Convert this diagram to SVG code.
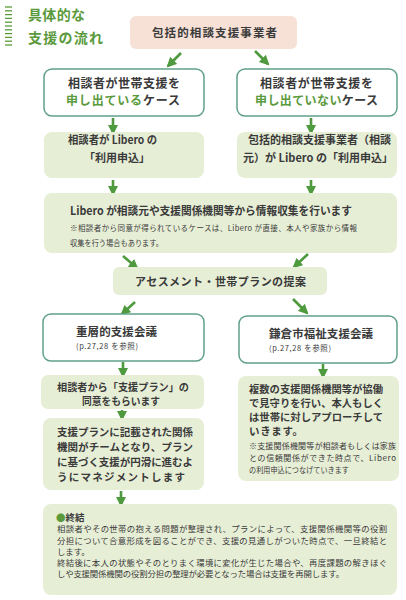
<svg xmlns="http://www.w3.org/2000/svg" width="406" height="600" viewBox="0 0 406 600">
<style>
text{font-family:"Noto Sans CJK JP","Noto Sans",sans-serif;fill:#3a3a3a}
.t{font-weight:700}
.title{font-size:14px;font-weight:700;fill:#5a9a3c}
.g{fill:#5a9a3c}
.n{font-size:12px;font-weight:700}
.m{font-size:10.5px;font-weight:700}
.s{font-size:7.5px;font-weight:400}
.b{font-size:8.4px;font-weight:400}
.pink{fill:#f7e1d7}
.wbox{fill:#ffffff;stroke:#5fa08a;stroke-width:1.5}
.gbox{fill:#e7eed6}
.arr{stroke:#4f9a3f;stroke-width:2.6;fill:none;marker-end:url(#ah)}
</style>
<defs>
<marker id="ah" markerUnits="userSpaceOnUse" markerWidth="10" markerHeight="10" viewBox="0 0 10 10" refX="8" refY="5" orient="auto">
<path d="M0,0 L10,5 L0,10 Z" fill="#4f9a3f"/>
</marker>
</defs>
<rect width="406" height="600" fill="#ffffff"/>

<g id="title">
<g stroke="#5a9a3c" stroke-width="1.3">
<line x1="5" y1="7" x2="12" y2="7"/><line x1="5" y1="10.8" x2="12" y2="10.8"/><line x1="5" y1="14.6" x2="12" y2="14.6"/><line x1="5" y1="18.4" x2="12" y2="18.4"/><line x1="5" y1="22.2" x2="12" y2="22.2"/><line x1="5" y1="26" x2="12" y2="26"/><line x1="5" y1="29.8" x2="12" y2="29.8"/><line x1="5" y1="33.6" x2="12" y2="33.6"/><line x1="5" y1="37.4" x2="12" y2="37.4"/><line x1="5" y1="41.2" x2="12" y2="41.2"/><line x1="5" y1="45" x2="12" y2="45"/>
</g>
<text class="title" x="28" y="19.5" textLength="57">具体的な</text>
<text class="title" x="28" y="42.5" textLength="75">支援の流れ</text>
</g>

<g id="connectors">
<line class="arr" x1="181" y1="53" x2="168" y2="66"/>
<line class="arr" x1="255" y1="51" x2="268" y2="64"/>
<line class="arr" x1="113" y1="118" x2="113" y2="133"/>
<line class="arr" x1="311" y1="118" x2="311" y2="133"/>
<line class="arr" x1="113" y1="180" x2="113" y2="194"/>
<line class="arr" x1="311" y1="180" x2="311" y2="194"/>
<line class="arr" x1="123" y1="256" x2="137" y2="268"/>
<line class="arr" x1="308" y1="254" x2="294" y2="267"/>
<line class="arr" x1="135" y1="302" x2="122" y2="314"/>
<line class="arr" x1="293" y1="299" x2="307" y2="313"/>
<line class="arr" x1="123" y1="362" x2="123" y2="376"/>
<line class="arr" x1="323" y1="364" x2="323" y2="377"/>
<line class="arr" x1="122" y1="410" x2="122" y2="419"/>
<line class="arr" x1="121" y1="491" x2="121" y2="505"/>
</g>

<g id="n-top">
<rect class="pink" x="130" y="16" width="167" height="33" rx="6"/>
<text class="n" style="font-size:11.5px" x="152" y="37.3" textLength="125">包括的相談支援事業者</text>
</g>

<g id="n-case-left">
<rect class="wbox" x="44" y="69" width="160" height="47" rx="8"/>
<text class="n" x="68" y="87.5" textLength="112">相談者が世帯支援を</text>
<text class="n" x="66" y="104.5" textLength="114"><tspan class="g">申し出ている</tspan>ケース</text>
</g>

<g id="n-case-right">
<rect class="wbox" x="237" y="69" width="160" height="47" rx="8"/>
<text class="n" x="260" y="87.5" textLength="113">相談者が世帯支援を</text>
<text class="n" x="255" y="104.5" textLength="123"><tspan class="g">申し出ていない</tspan>ケース</text>
</g>

<g id="n-apply-left">
<rect class="gbox" x="44" y="132" width="160" height="46" rx="8"/>
<text class="m" style="font-size:11px" x="68" y="144.3" textLength="89" lengthAdjust="spacingAndGlyphs">相談者が Libero の</text>
<text class="m" style="font-size:11px" x="84" y="162.3" textLength="66">「利用申込」</text>
</g>

<g id="n-apply-right">
<rect class="gbox" x="237" y="132" width="160" height="46" rx="8"/>
<text class="m" style="font-size:11px" x="248" y="144.3" textLength="143">包括的相談支援事業者（相談</text>
<text class="m" style="font-size:11px" x="243" y="162.3" textLength="150">元）が Libero の「利用申込」</text>
</g>

<g id="n-info">
<rect class="gbox" x="44" y="193" width="353" height="60" rx="8"/>
<text class="t" style="font-size:11.5px" x="70" y="215.3" textLength="282" lengthAdjust="spacingAndGlyphs">Libero が相談元や支援関係機関等から情報収集を行います</text>
<text class="s" x="70" y="231" textLength="287">※相談者から同意が得られているケースは、Libero が直接、本人や家族から情報</text>
<text class="s" x="70" y="246" textLength="93" lengthAdjust="spacingAndGlyphs">収集を行う場合もあります。</text>
</g>

<g id="n-assess">
<rect class="gbox" x="113" y="267" width="214" height="28" rx="6"/>
<text class="m" style="font-size:11px" x="135" y="286.2" textLength="171">アセスメント・世帯プランの提案</text>
</g>

<g id="n-meeting-left">
<rect class="wbox" x="43" y="314" width="161" height="47" rx="8"/>
<text class="n" style="font-size:11.5px" x="76" y="336.3" textLength="81">重層的支援会議</text>
<text class="s" x="76" y="348.5" textLength="62">(p.27,28 を参照)</text>
</g>

<g id="n-meeting-right">
<rect class="wbox" x="239" y="316" width="158" height="47" rx="8"/>
<text class="n" style="font-size:11.5px" x="269" y="338.3" textLength="104">鎌倉市福祉支援会議</text>
<text class="s" x="269" y="350.5" textLength="62">(p.27,28 を参照)</text>
</g>

<g id="n-consent">
<rect class="gbox" x="41" y="375" width="163" height="34" rx="7"/>
<text class="m" x="57" y="391" textLength="132" lengthAdjust="spacingAndGlyphs">相談者から「支援プラン」の</text>
<text class="m" x="82" y="405" textLength="78" lengthAdjust="spacingAndGlyphs">同意をもらいます</text>
</g>

<g id="n-manage">
<rect class="gbox" x="43" y="418" width="161" height="72" rx="8"/>
<text class="m" x="57" y="436" textLength="136">支援プランに記載された関係</text>
<text class="m" x="57" y="451" textLength="136">機関がチームとなり、プラン</text>
<text class="m" x="57" y="466" textLength="136">に基づく支援が円滑に進むよ</text>
<text class="m" x="57" y="481" textLength="128">うにマネジメントします</text>
</g>

<g id="n-watch">
<rect class="gbox" x="238" y="376" width="161" height="105" rx="8"/>
<text class="m" x="249" y="393" textLength="134" lengthAdjust="spacingAndGlyphs">複数の支援関係機関等が協働</text>
<text class="m" x="249" y="407" textLength="134" lengthAdjust="spacingAndGlyphs">で見守りを行い、本人もしく</text>
<text class="m" x="249" y="421" textLength="134" lengthAdjust="spacingAndGlyphs">は世帯に対しアプローチして</text>
<text class="m" x="249" y="435" textLength="54">いきます。</text>
<text class="s" style="font-size:8px" x="249" y="449" textLength="147">※支援関係機関等が相談者もしくは家族</text>
<text class="s" style="font-size:8px" x="249" y="461" textLength="147">との信頼関係ができた時点で、Libero</text>
<text class="s" style="font-size:8px" x="249" y="473" textLength="100" lengthAdjust="spacingAndGlyphs">の利用申込につなげていきます</text>
</g>

<g id="n-end">
<rect class="gbox" x="43" y="504" width="354" height="91" rx="8"/>
<text class="t" style="font-size:9.5px" x="56" y="520.5"><tspan class="g">●</tspan>終結</text>
<text class="b" x="57" y="532.3" textLength="330">相談者やその世帯の抱える問題が整理され、プランによって、支援関係機関等の役割</text>
<text class="b" x="57" y="543.5" textLength="330">分担について合意形成を図ることができ、支援の見通しがついた時点で、一旦終結と</text>
<text class="b" x="57" y="554.8">します。</text>
<text class="b" x="57" y="566" textLength="330">終結後に本人の状態やそのとりまく環境に変化が生じた場合や、再度課題の解きほぐ</text>
<text class="b" x="57" y="577.3" textLength="287">しや支援関係機関の役割分担の整理が必要となった場合は支援を再開します。</text>
</g>
</svg>
